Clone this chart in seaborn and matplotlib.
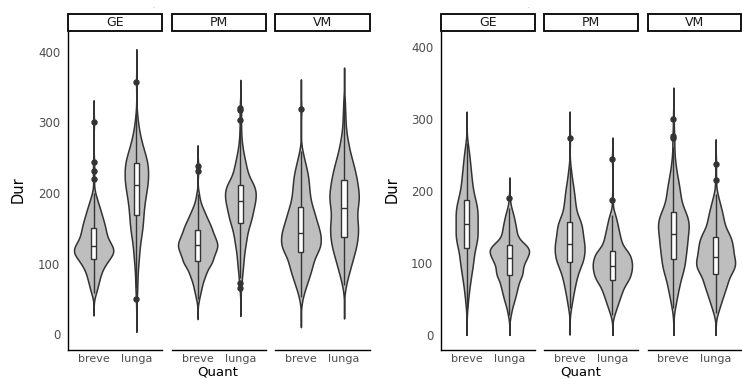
import numpy as np
import pandas as pd
import matplotlib
matplotlib.use("Agg")
import matplotlib.pyplot as plt
from matplotlib.patches import Rectangle
import seaborn as sns

sns.set_style("white")
plt.rcParams['font.family'] = ['DejaVu Sans']

# ---------------- data (value levels and their counts) -------------
luoghi = ["GE", "PM", "VM"]
quant = ["breve", "lunga"]

# left chart
L_GE_breve_dur = [58, 66, 74, 82, 90, 98, 106, 115.5, 125, 133.7, 142.3, 151, 160, 170, 180, 190, 200, 220, 231, 244, 300]
L_GE_breve_n = [3, 4, 6, 7, 9, 12, 18, 29, 24, 16, 15, 14, 13, 11, 8, 5, 2, 1, 1, 1, 1]
L_GE_lunga_dur = [50, 66, 80, 94, 108, 122, 136, 148, 158, 168.5, 179, 190, 200, 211, 221, 232, 242, 252, 262, 272, 282, 292, 302, 312, 357]
L_GE_lunga_n = [1, 2, 2, 3, 5, 6, 8, 9, 9, 10, 11, 12, 14, 16, 17, 17, 16, 13, 10, 7, 5, 3, 2, 1, 1]
L_PM_breve_dur = [50, 60, 70, 80, 88, 96, 104, 115, 126, 137, 148, 158, 168, 178, 188, 198, 231, 239]
L_PM_breve_n = [2, 4, 6, 8, 9, 11, 20, 25, 30, 25, 20, 15, 11, 7, 3, 2, 1, 1]
L_PM_lunga_dur = [66, 72, 80, 92, 104, 116, 128, 138, 148, 157, 167, 178, 188, 196, 204, 212, 222, 232, 242, 252, 262, 272, 282, 292, 303, 317, 320]
L_PM_lunga_n = [1, 1, 2, 4, 5, 6, 8, 8, 9, 12, 17, 18, 18, 16, 16, 18, 10, 9, 7, 5, 3, 2, 1, 1, 1, 1, 1]
L_VM_breve_dur = [52, 64, 74, 84, 94, 104, 116, 125.3, 134.7, 144, 153, 162, 171, 180, 190, 200, 210, 220, 230, 240, 250, 260, 319]
L_VM_breve_n = [2, 4, 6, 8, 10, 12, 16, 17, 17, 16, 14, 12, 11, 10, 8, 8, 7, 7, 6, 4, 3, 1, 1]
L_VM_lunga_dur = [70, 80, 90, 100, 110, 120, 128, 137, 147.5, 158, 168.5, 179, 189, 198, 208, 218, 228, 238, 248, 258, 268, 278, 290, 305, 320, 330]
L_VM_lunga_n = [2, 3, 5, 7, 8, 10, 9, 12, 14, 13, 11, 12, 13, 13, 12, 12, 10, 9, 7, 5, 4, 3, 2, 2, 1, 1]

# right chart
R_GE_breve_dur = [38, 48, 58, 68, 78, 88, 98, 108, 120.5, 131.7, 142.8, 154, 165.2, 176.3, 187.5, 198, 208, 218, 228, 238, 248, 258, 267]
R_GE_breve_n = [1, 2, 3, 4, 6, 7, 9, 11, 14, 17, 18, 16, 18, 17, 14, 9, 8, 7, 6, 5, 4, 3, 1]
R_GE_lunga_dur = [28, 37, 46, 55, 64, 73, 83, 91.2, 99.3, 107.5, 116.75, 125.5, 136, 146, 156, 166, 176, 190]
R_GE_lunga_n = [2, 3, 6, 8, 10, 12, 18, 14, 16, 22, 28, 22, 11, 10, 8, 6, 3, 1]
R_PM_breve_dur = [38, 47, 56, 65, 74, 83, 92, 101, 109.7, 118.3, 127, 136.8, 146.7, 156.5, 166, 176, 186, 196, 206, 216, 226, 234, 273]
R_PM_breve_n = [2, 3, 4, 6, 7, 9, 11, 16, 16, 17, 18, 17, 16, 16, 9, 8, 7, 6, 5, 3, 2, 1, 1]
R_PM_lunga_dur = [28, 36, 44, 52, 60, 68, 76, 82.8, 89.7, 96.5, 103.3, 110.2, 117, 127, 137, 147, 157, 167, 187, 245]
R_PM_lunga_n = [2, 4, 6, 8, 10, 12, 16, 16, 17, 18, 17, 16, 16, 12, 10, 8, 6, 4, 1, 1]
R_VM_breve_dur = [38, 48, 58, 68, 78, 88, 97, 105, 113.75, 122.5, 131.25, 140, 150.3, 160.7, 171, 181, 191, 201, 211, 221, 231, 241, 251, 261, 274, 276, 300]
R_VM_breve_n = [2, 3, 5, 6, 8, 10, 11, 10, 12, 13, 13, 14, 19, 17, 14, 8, 8, 7, 6, 4, 3, 2, 1, 1, 1, 1, 1]
R_VM_lunga_dur = [30, 39, 48, 57, 66, 75, 85, 93, 101, 109, 118.2, 127.3, 136.5, 146, 156, 166, 176, 186, 196, 215, 238]
R_VM_lunga_n = [2, 4, 6, 8, 10, 13, 14, 17, 18, 16, 18, 16, 16, 11, 9, 8, 6, 4, 2, 1, 1]

y_ticks = [0, 100, 200, 300, 400]

groups = {
    ("L", "GE", "breve"): (L_GE_breve_dur, L_GE_breve_n),
    ("L", "GE", "lunga"): (L_GE_lunga_dur, L_GE_lunga_n),
    ("L", "PM", "breve"): (L_PM_breve_dur, L_PM_breve_n),
    ("L", "PM", "lunga"): (L_PM_lunga_dur, L_PM_lunga_n),
    ("L", "VM", "breve"): (L_VM_breve_dur, L_VM_breve_n),
    ("L", "VM", "lunga"): (L_VM_lunga_dur, L_VM_lunga_n),
    ("R", "GE", "breve"): (R_GE_breve_dur, R_GE_breve_n),
    ("R", "GE", "lunga"): (R_GE_lunga_dur, R_GE_lunga_n),
    ("R", "PM", "breve"): (R_PM_breve_dur, R_PM_breve_n),
    ("R", "PM", "lunga"): (R_PM_lunga_dur, R_PM_lunga_n),
    ("R", "VM", "breve"): (R_VM_breve_dur, R_VM_breve_n),
    ("R", "VM", "lunga"): (R_VM_lunga_dur, R_VM_lunga_n),
}

frames = []
for (half, loc, q), (d, n) in groups.items():
    vals = np.repeat(np.asarray(d, float), np.asarray(n, int))
    frames.append(pd.DataFrame({"half": half, "Luogo": loc, "Quant": q, "Dur": vals}))
df = pd.concat(frames, ignore_index=True)

# ---------------- layout ----------------
W, H = 742, 379
fig = plt.figure(figsize=(W / 100, H / 100), dpi=100)
fig.patch.set_facecolor("white")

panels = {"L": [(68, 162), (172, 266), (275, 370)],
          "R": [(441, 535), (544, 638), (648, 741)]}
top, bot = 32, 350
ylims = {"L": (-22.6, 428.3), "R": (-20.8, 420.8)}
ph = bot - top

for half in ["L", "R"]:
    for i, loc in enumerate(luoghi):
        x0, x1 = panels[half][i]
        ax = fig.add_axes([x0 / W, (H - bot) / H, (x1 - x0) / W, ph / H])
        sub = df[(df.half == half) & (df.Luogo == loc)]
        sns.violinplot(data=sub, x="Quant", y="Dur", order=quant, color="#BEBEBE",
                       saturation=1, linecolor="#333333", linewidth=1.1, width=0.92,
                       cut=4, bw_method=0.22, inner=None, density_norm="area", ax=ax)
        if half == "R":
            for coll in ax.collections:
                clip = Rectangle((-1, 0), 4, 1000, transform=ax.transData)
                coll.set_clip_path(clip)
        sns.boxplot(data=sub, x="Quant", y="Dur", order=quant, width=0.12, color="white",
                    saturation=1, linecolor="#333333", linewidth=1.0, showcaps=False,
                    fliersize=3.6,
                    flierprops=dict(marker="o", markerfacecolor="#333333",
                                    markeredgecolor="#333333"),
                    ax=ax)
        ax.set_xlim(-0.6, 1.6)
        ax.set_ylim(*ylims[half])
        ax.set_xlabel("")
        ax.set_ylabel("")
        ax.set_facecolor("white")
        for s in ["top", "right"]:
            ax.spines[s].set_visible(False)
        ax.spines["bottom"].set_color("black")
        ax.spines["bottom"].set_linewidth(1.0)
        ax.set_yticks(y_ticks)
        ax.tick_params(axis="x", length=2.5, width=0.8, color="#333333",
                       labelsize=8.0, labelcolor="#4D4D4D", pad=0.5)
        if i == 0:
            ax.spines["left"].set_color("black")
            ax.spines["left"].set_linewidth(1.0)
            ax.tick_params(axis="y", length=3.5, width=0.8, color="#333333",
                           labelsize=8.5, labelcolor="#4D4D4D", pad=2)
        else:
            ax.spines["left"].set_visible(False)
            ax.tick_params(axis="y", left=False, labelleft=False)
        # facet strip
        ax.add_patch(Rectangle((0, 1 + 1 / ph), 1, 17 / ph, transform=ax.transAxes,
                               clip_on=False, facecolor="white", edgecolor="black",
                               linewidth=1.3))
        ax.text(0.5, 1 + 9.5 / ph, loc, transform=ax.transAxes, ha="center",
                va="center", fontsize=9, color="#1A1A1A")

# axis titles
for xl, yl in [(18, 190), (392, 190)]:
    fig.text(xl / W, 1 - yl / H, "Dur", rotation=90, ha="center", va="center",
             fontsize=10.5, color="black")
for xq in [218, 581]:
    fig.text(xq / W, 1 - 375.8 / H, "Quant", ha="center", va="baseline",
             fontsize=9.5, color="black")

# tiny marks at the top of each chart (present in the reference)
for xd in [153, 528]:
    fig.text(xd / W, 1 - 8 / H, ".", ha="center", va="baseline", fontsize=4,
             color="#777777")

fig.savefig("out.png", dpi=100, facecolor="white")
